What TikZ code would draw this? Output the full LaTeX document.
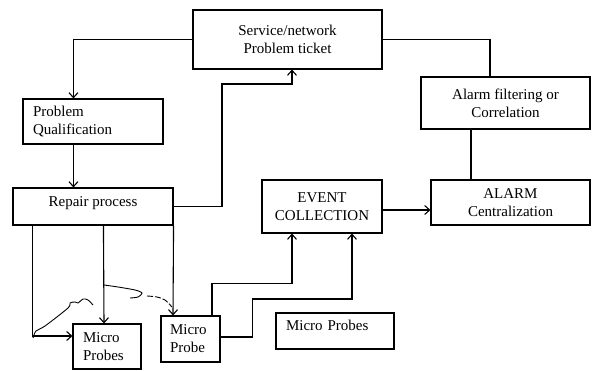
\documentclass[tikz,border=0pt]{standalone}
\usepackage{fontspec}
\setmainfont{Liberation Serif}
\usetikzlibrary{arrows.meta}

\begin{document}
\begin{tikzpicture}[x=1pt,y=-1pt,line width=1.1pt,
  >={Straight Barb[length=5pt,width=9pt]},
  box/.style={draw, align=center, inner sep=0pt, font=\fontsize{15}{18}\selectfont},
  lbox/.style={box, align=left}]
\useasboundingbox (0,0) rectangle (592,371);
\node[box, minimum width=189pt, minimum height=59pt] (tkt) at (287.5,39.5) {Service/network\\Problem ticket};
\node[lbox, text width=120pt, inner xsep=10pt, minimum height=45pt] (qual) at (93,121.5) {Problem\\Qualification};
\node[box, minimum width=160pt, minimum height=37pt, text depth=10pt] (rep) at (93,206.5) {Repair process};
\node[box, minimum width=169pt, minimum height=52pt] (filt) at (505.5,103) {Alarm filtering or\\Correlation};
\node[box, minimum width=120pt, minimum height=53pt] (evt) at (322,206.5) {EVENT\\COLLECTION};
\node[box, minimum width=159pt, minimum height=45pt] (alm) at (510.5,202.5) {ALARM\\Centralization};
\node[lbox, text width=48pt, inner xsep=10pt, minimum height=45pt] (mpl) at (107,346.5) {Micro\\Probes};
\node[lbox, text width=41pt, inner xsep=9pt, minimum height=46pt] (mp) at (190.5,339) {Micro\\Probe};
\node[lbox, text width=98pt, inner xsep=10pt, minimum height=36pt, text depth=12pt] (mpr) at (335,331) {Micro Probes};
\draw[->] (tkt.west) -| ([xshift=51pt]qual.north west);
\draw[->] ([xshift=51pt]qual.south west) -- ([xshift=51pt]qual.south west |- rep.north);
\draw[->] (rep.east) -| (222,84) -| ([xshift=4.5pt]tkt.south);
\draw (tkt.east) -| ([xshift=-15.5pt]filt.north);
\draw ([xshift=-34.5pt]filt.south) -- ([xshift=-34.5pt]filt.south |- alm.north);
\draw[->] ([yshift=-3.5pt]evt.east) -- ([yshift=-3.5pt]evt.east -| alm.west);
\draw[->] ([xshift=20pt]rep.south west) |- ([yshift=10.5pt]mpl.west);
\draw[->] ([xshift=91pt]rep.south west) -- ([xshift=-3pt]mpl.north);
\draw[->] (rep.south east) -- ([xshift=-17.5pt]mp.north);
\draw[->] ([xshift=21.5pt]mp.north) -- ++(0,-32) -| ([xshift=-30pt]evt.south);
\draw[->] ([yshift=2pt]mp.east) -| ++(32,-38) -| ([xshift=30pt]evt.south);
% pen marks over the probe lines
\draw[line width=0.9pt] plot[smooth] coordinates {(33,338) (36,331) (45,326) (68,308) (70,303) (75,302) (78,303) (83,299) (88,300) (93,305)};
\draw[line width=0.9pt] plot[smooth] coordinates {(104,285) (118,287) (135,290) (142,293) (138,297) (130,298)};
\draw[line width=0.9pt, dash pattern=on 6pt off 2pt] plot[smooth] coordinates {(147,296) (157,297) (165,300) (172,307)};
\end{tikzpicture}
\end{document}
